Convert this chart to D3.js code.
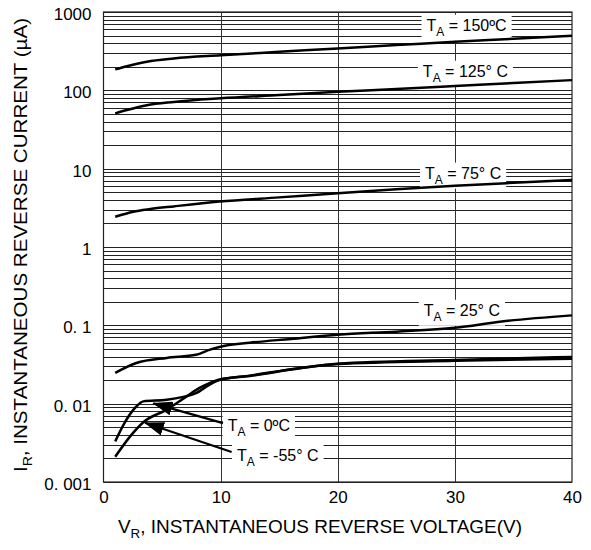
<!DOCTYPE html>
<html>
<head>
<meta charset="utf-8">
<script src="https://cdn.jsdelivr.net/npm/d3@7"></script>
<style>
  body { margin: 0; background: #fff; }
  text { font-family: "Liberation Sans", Arial, sans-serif; fill: #000; }
</style>
</head>
<body>
<div id="chart"></div>
<script>
// reverse current vs reverse voltage, one series per temperature
var v150 = [1, 2, 3.7, 6, 10, 15, 20, 25, 30, 35, 40];
var i150 = [185, 203, 232, 255, 280, 310, 343, 378, 418, 455, 498];

var v125 = [1, 2, 3.7, 6, 10, 15, 20, 25, 30, 35, 40];
var i125 = [50.8, 56, 64.5, 71, 79, 87, 96, 104, 113.5, 124, 135];

var v75 = [1, 2.55, 4, 6, 9.9, 15, 20, 25, 30, 35, 40];
var i75 = [2.43, 2.82, 3.05, 3.3, 3.8, 4.3, 4.85, 5.45, 6.05, 6.6, 7.15];

var v25 = [1, 2.8, 5.4, 7.9, 9.1, 9.9, 12.5, 16, 20, 25, 30, 34, 40];
var i25 = [0.0247, 0.033, 0.0384, 0.042, 0.049, 0.053, 0.060, 0.067, 0.076, 0.083, 0.093, 0.112, 0.134];

var v0 = [1, 1.8, 2.8, 3.4, 5.4, 6.8, 7.95, 8.8, 9.9, 12.5, 16.8, 20, 30, 40];
var i0 = [0.0033, 0.0057, 0.0092, 0.0107, 0.0112, 0.0122, 0.0137, 0.0166, 0.020, 0.0228, 0.0286, 0.0324, 0.0362, 0.0395];

var vm55 = [1, 2.26, 3.4, 5.4, 7.1, 8.2, 9.1, 9.9, 12.5, 16.8, 20, 30, 40];
var im55 = [0.0021, 0.0038, 0.0058, 0.0084, 0.0124, 0.0159, 0.0184, 0.0203, 0.0226, 0.0283, 0.032, 0.0352, 0.0375];

var xTicks = [0, 10, 20, 30, 40];
var yTicks = [1000, 100, 10, 1, 0.1, 0.01, 0.001];
var yTickLabels = ['1000', '100', '10', '1', '0. 1', '0. 01', '0. 001'];

// label text: T, subscript A, rest ; anchor in data units
var labelRest = ['= 150ºC', '= 125° C', '= 75° C', '= 25° C', '=  0ºC', '= -55° C'];
var labelV = [31, 30.9, 30.7, 30.6, 10.6, 11.4];
var labelI = [680, 176, 8.8, 0.156, 0.0053, 0.0022];
var labelAlign = ['middle', 'middle', 'middle', 'middle', 'start', 'start'];

// arrows for the two low temperature curves
var arrowFrom = [[10.2, 0.00564], [10.94, 0.00242]];
var arrowTo = [[4.25, 0.0101], [3.54, 0.0057]];

var W = 591, H = 550;
var m = {top: 12, right: 19, bottom: 68, left: 103.5};

var svg = d3.select('#chart').append('svg')
    .attr('width', W)
    .attr('height', H);

var x = d3.scaleLinear().domain([0, 40]).range([m.left, W - m.right]);
var y = d3.scaleLog().domain([0.001, 1000]).range([H - m.bottom, m.top]);

// grid
var minor = [];
for (var e = -3; e < 3; e++) {
  for (var k = 1; k <= 9; k++) minor.push(k * Math.pow(10, e));
}
minor.push(1000);

svg.append('g').selectAll('line')
    .data(minor)
    .enter()
    .append('line')
    .attr('x1', x(0)).attr('x2', x(40))
    .attr('y1', function(d) { return Math.round(y(d)) + 0.5; })
    .attr('y2', function(d) { return Math.round(y(d)) + 0.5; })
    .attr('stroke', '#222')
    .attr('stroke-width', 1);

svg.append('g').selectAll('line')
    .data([10, 20, 30])
    .enter()
    .append('line')
    .attr('x1', function(d) { return Math.round(x(d)) + 0.5; })
    .attr('x2', function(d) { return Math.round(x(d)) + 0.5; })
    .attr('y1', y(1000)).attr('y2', y(0.001))
    .attr('stroke', '#333')
    .attr('stroke-width', 1);

svg.append('rect')
    .attr('x', x(0)).attr('y', y(1000))
    .attr('width', x(40) - x(0)).attr('height', y(0.001) - y(1000))
    .attr('fill', 'none')
    .attr('stroke', '#222')
    .attr('stroke-width', 1.2);

// axes
var xAxis = svg.append('g')
    .attr('transform', 'translate(0,' + y(0.001) + ')')
    .call(d3.axisBottom(x).tickValues(xTicks).tickSize(0).tickPadding(9));
xAxis.select('.domain').remove();
xAxis.selectAll('text').style('font-size', '17px')
    .style('font-family', '"Liberation Sans", Arial, sans-serif').attr('fill', '#000');

var yAxis = svg.append('g')
    .attr('transform', 'translate(' + x(0) + ',0)')
    .call(d3.axisLeft(y).tickValues(yTicks).tickSize(0).tickPadding(12)
      .tickFormat(function(d, i) { return yTickLabels[i]; }));
yAxis.select('.domain').remove();
yAxis.selectAll('text').style('font-size', '17px')
    .style('font-family', '"Liberation Sans", Arial, sans-serif').attr('fill', '#000')
    .attr('dy', '0.45em');

// label boxes + text
var labels = svg.append('g');
labelRest.forEach(function(rest, i) {
  var g = labels.append('g');
  var t = g.append('text')
      .attr('x', x(labelV[i]))
      .attr('y', y(labelI[i]))
      .attr('dy', '0.35em')
      .attr('text-anchor', labelAlign[i])
      .style('font-size', '16px');
  t.append('tspan').text('T');
  t.append('tspan').attr('dy', 5).style('font-size', '12px').text('A');
  t.append('tspan').attr('dy', -5).text(' ' + rest);
  var b = t.node().getBBox();
  g.insert('rect', 'text')
      .attr('x', b.x - 5).attr('y', b.y - 2)
      .attr('width', b.width + 10).attr('height', b.height + 4)
      .attr('fill', '#fff');
});

// curves
var line = d3.line()
    .x(function(d) { return x(d[0]); })
    .y(function(d) { return y(d[1]); })
    .curve(d3.curveMonotoneX);

var series = [[v150, i150], [v125, i125], [v75, i75], [v25, i25], [v0, i0], [vm55, im55]];
svg.append('g').selectAll('path')
    .data(series)
    .enter()
    .append('path')
    .attr('d', function(s) {
      return line(s[0].map(function(v, j) { return [v, s[1][j]]; }));
    })
    .attr('fill', 'none')
    .attr('stroke', '#000')
    .attr('stroke-width', 2.5)
    .attr('stroke-linejoin', 'round');

// arrows
svg.append('defs').append('marker')
    .attr('id', 'head')
    .attr('markerUnits', 'userSpaceOnUse')
    .attr('viewBox', '0 0 20 14')
    .attr('refX', 19).attr('refY', 7)
    .attr('markerWidth', 20).attr('markerHeight', 14)
    .attr('orient', 'auto')
    .append('path')
    .attr('d', 'M0,0 L20,7 L0,14 Z')
    .attr('fill', '#000');

svg.append('g').selectAll('line')
    .data(arrowFrom)
    .enter()
    .append('line')
    .attr('x1', function(d) { return x(d[0]); })
    .attr('y1', function(d) { return y(d[1]); })
    .attr('x2', function(d, i) { return x(arrowTo[i][0]); })
    .attr('y2', function(d, i) { return y(arrowTo[i][1]); })
    .attr('stroke', '#000')
    .attr('stroke-width', 2.2)
    .attr('marker-end', 'url(#head)');

// axis titles
var xt = svg.append('text')
    .attr('x', 118).attr('y', 533)
    .attr('textLength', 404)
    .attr('lengthAdjust', 'spacingAndGlyphs')
    .style('font-size', '18.5px');
xt.append('tspan').text('V');
xt.append('tspan').attr('dy', 5).style('font-size', '13px').text('R');
xt.append('tspan').attr('dy', -5).text(', INSTANTANEOUS REVERSE VOLTAGE(V)');

var yt = svg.append('text')
    .attr('transform', 'translate(27,472) rotate(-90)')
    .attr('textLength', 454)
    .attr('lengthAdjust', 'spacingAndGlyphs')
    .style('font-size', '19px');
yt.append('tspan').text('I');
yt.append('tspan').attr('dy', 5).style('font-size', '13px').text('R');
yt.append('tspan').attr('dy', -5).text(', INSTANTANEOUS REVERSE CURRENT (µA)');
</script>
</body>
</html>
